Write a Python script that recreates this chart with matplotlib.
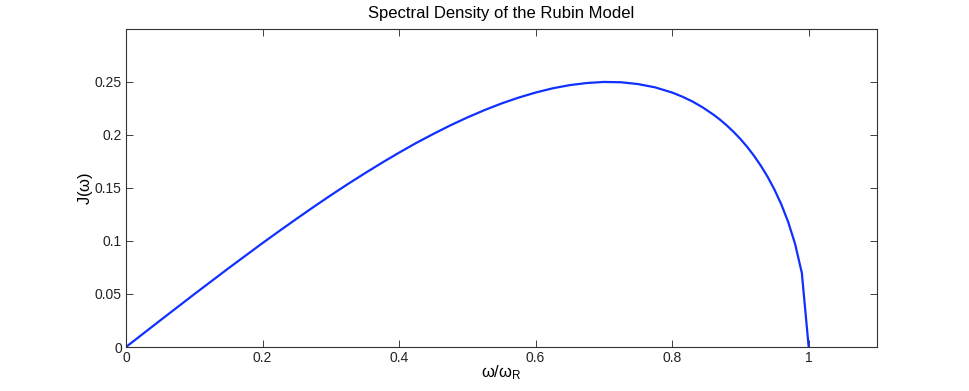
import matplotlib.pyplot as plt

# values
omega = [0.0, 0.05, 0.1, 0.15, 0.2, 0.225, 0.25, 0.275, 0.3, 0.325, 0.35,
         0.375, 0.4, 0.425, 0.45, 0.475, 0.5, 0.525, 0.55, 0.575, 0.6,
         0.625, 0.65, 0.675, 0.7, 0.725, 0.75, 0.775, 0.8, 0.815, 0.83,
         0.845, 0.86, 0.87, 0.88, 0.89, 0.9, 0.91, 0.92, 0.93, 0.94,
         0.95, 0.96, 0.97, 0.98, 0.99, 1.0]
J = [0.0, 0.0250, 0.0498, 0.0742, 0.0980, 0.1096, 0.1210, 0.1322, 0.1431,
     0.1537, 0.1639, 0.1738, 0.1833, 0.1924, 0.2009, 0.2090, 0.2165,
     0.2234, 0.2297, 0.2352, 0.2400, 0.2440, 0.2470, 0.2490, 0.2500,
     0.2497, 0.2480, 0.2449, 0.2400, 0.2361, 0.2315, 0.2259, 0.2194,
     0.2145, 0.2090, 0.2029, 0.1962, 0.1887, 0.1803, 0.1709, 0.1604,
     0.1483, 0.1344, 0.1179, 0.0975, 0.0698, 0.0]

xticks = [0, 0.2, 0.4, 0.6, 0.8, 1]
xticklabels = ['0', '0.2', '0.4', '0.6', '0.8', '1']
yticks = [0, 0.05, 0.1, 0.15, 0.2, 0.25]
yticklabels = ['0', '0.05', '0.1', '0.15', '0.2', '0.25']

plt.rcParams['font.family'] = ['Liberation Sans', 'DejaVu Sans']

fig = plt.figure(figsize=(9.69, 3.91), dpi=100)
ax = fig.add_axes([0.130, 0.1125, 0.775, 0.8135])

ax.plot(omega, J, color='#1030ff', lw=1.6)

ax.set_xlim(0, 1.1)
ax.set_ylim(0, 0.3)
ax.set_xticks(xticks)
ax.set_xticklabels(xticklabels)
ax.set_yticks(yticks)
ax.set_yticklabels(yticklabels)
ax.tick_params(direction='in', top=True, right=True, length=5, width=0.6,
               labelsize=10, colors='#222222', pad=3)
for s in ax.spines.values():
    s.set_linewidth(0.8)
    s.set_color('#333333')

ax.set_title('Spectral Density of the Rubin Model', fontsize=12, pad=8)
ax.set_xlabel(r'$\mathregular{\omega/\omega_R}$', fontsize=12, labelpad=-1)
ax.set_ylabel(r'J($\mathregular{\omega}$)', fontsize=12, labelpad=0)

fig.savefig('out.png', dpi=100)
